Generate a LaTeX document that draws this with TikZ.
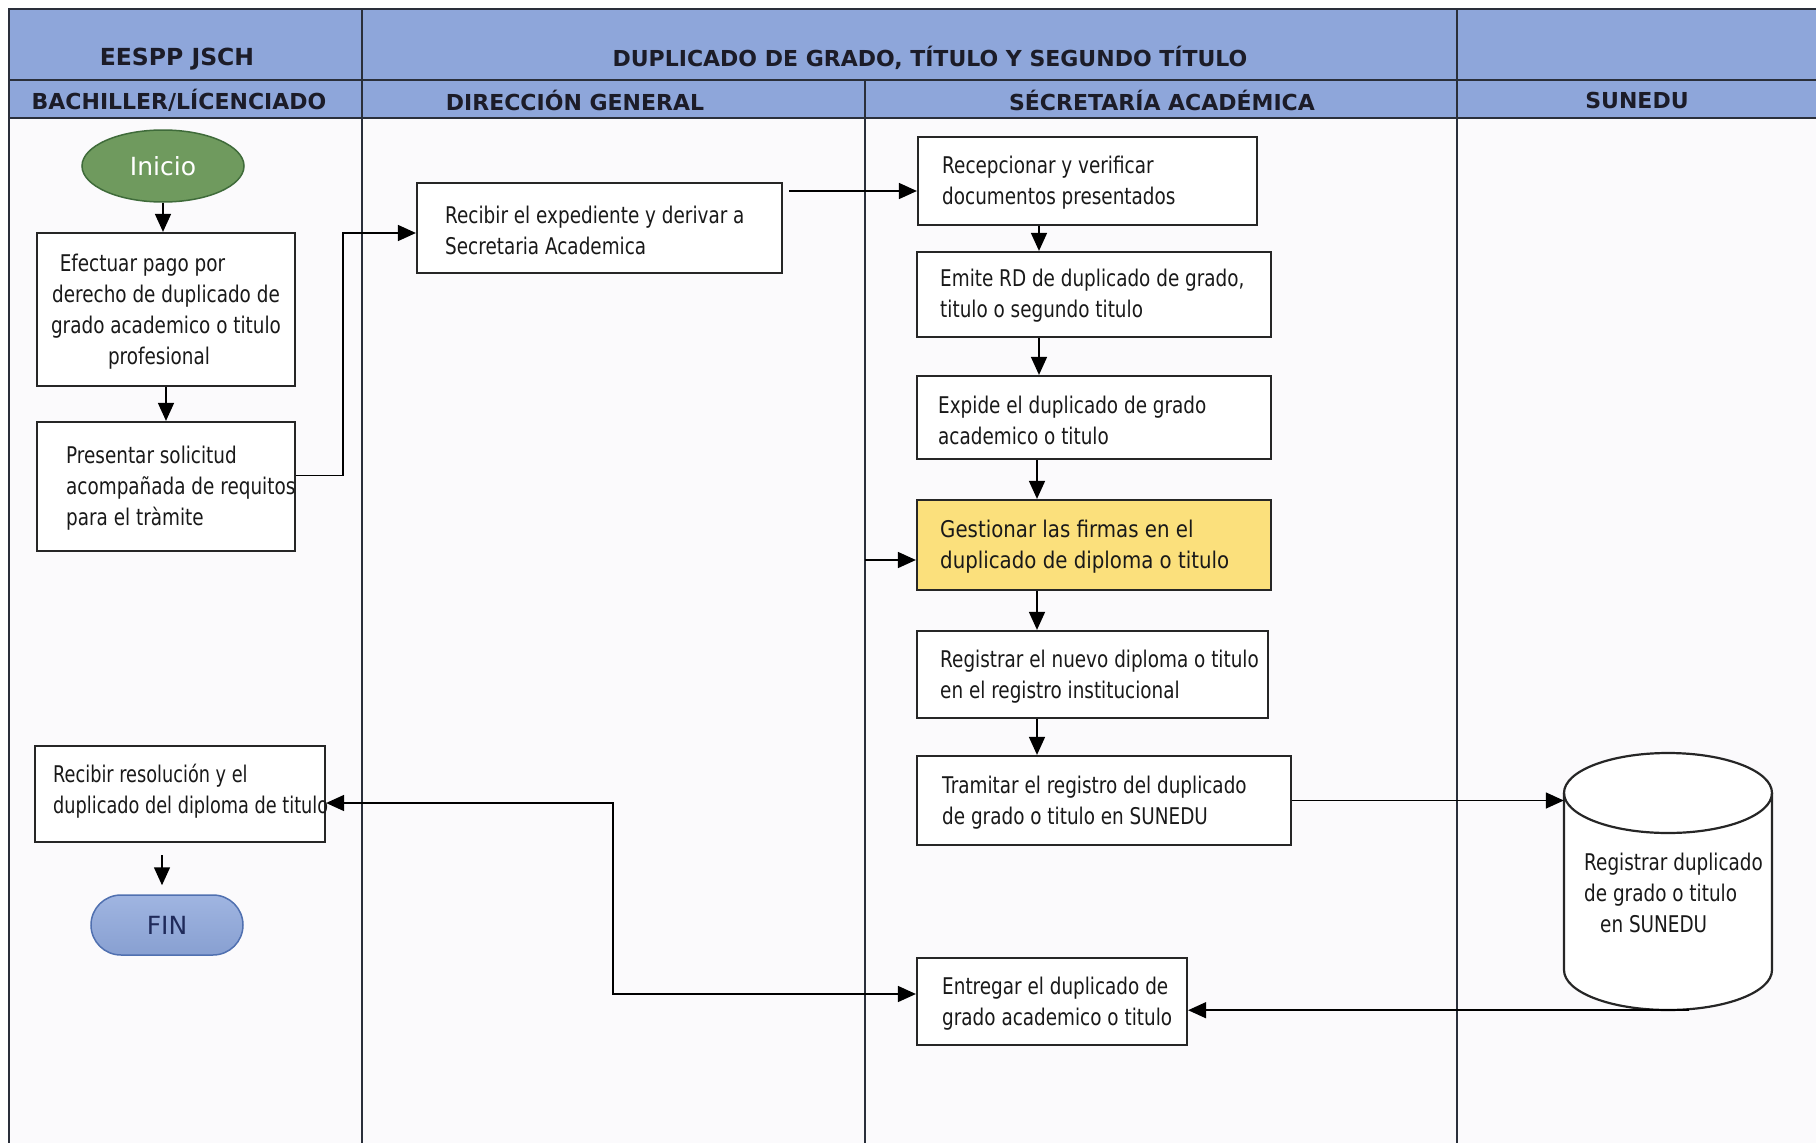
\documentclass[tikz,border=0pt]{standalone}
\usepackage{fontspec}
\setmainfont{DejaVu Sans}[FakeStretch=0.8]
\newfontfamily\hdfont{DejaVu Sans}
\newfontfamily\wdfont{DejaVu Sans}[FakeStretch=0.86]
\newfontfamily\nrfont{DejaVu Sans}[FakeStretch=0.77]
\usetikzlibrary{arrows.meta,shapes.geometric}
\definecolor{hdr}{HTML}{8EA6DA}
\definecolor{hdtext}{HTML}{1C1C28}
\definecolor{framec}{HTML}{2A2F3A}
\definecolor{bodybg}{HTML}{FBFAFC}
\definecolor{inifill}{HTML}{6F9A5E}
\definecolor{inidraw}{HTML}{3F6B3A}
\definecolor{finfill}{HTML}{8FA8DC}
\definecolor{findraw}{HTML}{5070B0}
\definecolor{fintext}{HTML}{1F2A5A}
\definecolor{gesfill}{HTML}{FBE07C}
\tikzset{
  frame/.style={draw=framec, line width=2pt},
  lane/.style={draw=framec, line width=1.6pt},
  hdlabel/.style={font=\hdfont\bfseries\fontsize{22}{26}\selectfont, text=hdtext, inner sep=0pt},
  box/.style={draw=black!85, line width=2.2pt, fill=white, inner sep=0pt},
  boxtxt/.style={font=\fontsize{23}{31}\selectfont, align=left, inner sep=0pt, anchor=west, text=black!90},
  arr/.style={draw=black, line width=1.5pt, -{Triangle[length=18pt,width=16pt]}},
  dblarr/.style={draw=black, line width=1.5pt, {Triangle[length=18pt,width=16pt]}-{Triangle[length=18pt,width=16pt]}},
}
\begin{document}
\begin{tikzpicture}[x=1pt,y=-1pt]
\useasboundingbox (0,0) rectangle (1816,1143);
\fill[white] (0,0) rectangle (1816,1143);
% body and header backgrounds
\fill[bodybg] (9,118) rectangle (1816,1143);
\fill[hdr] (9,9) rectangle (1816,118);
% frame and lanes
\draw[frame] (1816,9) -- (9,9) -- (9,1143);
\draw[frame] (9,80) -- (1816,80);
\draw[frame] (9,118) -- (1816,118);
\draw[lane] (362,9) -- (362,1143);
\draw[lane] (865,80) -- (865,1143);
\draw[lane] (1457,9) -- (1457,1143);
% header labels
\node[hdlabel, font=\hdfont\bfseries\fontsize{23.5}{27}\selectfont] (h1) at (177,59) {EESPP JSCH};
\node[hdlabel] (h2) at (930,58) {DUPLICADO DE GRADO, TÍTULO Y SEGUNDO TÍTULO};
\node[hdlabel] (l1) at (179,100) {BACHILLER/LÍCENCIADO};
\node[hdlabel] (l2) at (575,100) {DIRECCIÓN GENERAL};
\node[hdlabel] (l3) at (1162,100) {SÉCRETARÍA ACADÉMICA};
\node[hdlabel] (l4) at (1637,100) {SUNEDU};

% start / end
\node[ellipse, draw=inidraw, line width=1.5pt, fill=inifill, minimum width=162pt, minimum height=72pt, inner sep=0pt,
      font=\hdfont\fontsize{25}{30}\selectfont, text=white] (ini) at (163,166) {Inicio};
\node[rectangle, rounded corners=30pt, draw=findraw, line width=1.5pt, top color=finfill!85!white, bottom color=finfill!95!black,
      minimum width=152pt, minimum height=60pt, inner sep=0pt,
      font=\hdfont\fontsize{25}{30}\selectfont, text=fintext] (fin) at (167,925) {FIN};

% boxes
\node[box, minimum width=258pt, minimum height=153pt] (efe) at (166,309.5) {};
\node[inner sep=0pt, align=center, font=\fontsize{23}{31}\selectfont, text=black!90] (efet) at (166,312)
  {Efectuar pago por\hspace*{47pt}\\derecho de duplicado de\\grado academico o titulo\\profesional\hspace*{14pt}};
\node[box, minimum width=258pt, minimum height=129pt] (pres) at (166,486.5) {};
\node[boxtxt] (prest) at (66,488) {Presentar solicitud\\acompañada de requitos\\para el tràmite};

\node[box, minimum width=365pt, minimum height=90pt] (exp) at (599.5,228) {};
\node[boxtxt] (expt) at (445,230) {Recibir el expediente y derivar a\\Secretaria Academica};

\node[box, minimum width=339pt, minimum height=88pt] (rec) at (1087.5,181) {};
\node[boxtxt] (rect) at (942,183) {Recepcionar y verificar\\documentos presentados};

\node[box, minimum width=354pt, minimum height=85pt] (emi) at (1094,294.5) {};
\node[boxtxt] (emit) at (940,296) {Emite RD de duplicado de grado,\\titulo o segundo titulo};

\node[box, minimum width=354pt, minimum height=83pt] (expi) at (1094,417.5) {};
\node[boxtxt] (expit) at (938,420) {Expide el duplicado de grado\\academico o titulo};

\node[box, fill=gesfill, minimum width=354pt, minimum height=90pt] (ges) at (1094,545) {};
\node[boxtxt, font=\wdfont\fontsize{23}{31}\selectfont] (gest) at (940,547) {Gestionar las firmas en el\\duplicado de diploma o titulo};

\node[box, minimum width=351pt, minimum height=87pt] (reg) at (1092.5,674.5) {};
\node[boxtxt] (regt) at (940,677) {Registrar el nuevo diploma o titulo\\en el registro institucional};

\node[box, minimum width=374pt, minimum height=89pt] (tra) at (1104,800.5) {};
\node[boxtxt] (trat) at (942,803) {Tramitar el registro del duplicado\\de grado o titulo en SUNEDU};

\node[box, minimum width=270pt, minimum height=87pt] (ent) at (1052,1001.5) {};
\node[boxtxt] (entt) at (942,1004) {Entregar el duplicado de\\grado academico o titulo};

\node[box, minimum width=290pt, minimum height=96pt] (rr) at (180,794) {};
\node[boxtxt, font=\nrfont\fontsize{23}{31}\selectfont] (rrt) at (53,791) {Recibir resolución y el\\duplicado del diploma de titulo};

% cylinder (database)
\fill[white] (1564,793) -- (1564,970) arc[start angle=180, end angle=360, x radius=104pt, y radius=40pt] -- (1772,793) -- cycle;
\fill[white] (1668,793) ellipse [x radius=104pt, y radius=40pt];
\draw[black!85, line width=2.2pt] (1564,793) -- (1564,970) arc[start angle=180, end angle=360, x radius=104pt, y radius=40pt] -- (1772,793);
\draw[black!85, line width=2.2pt] (1668,793) ellipse [x radius=104pt, y radius=40pt];
\node[inner sep=0pt, minimum width=208pt, minimum height=257pt] (cyl) at (1668,881.5) {};
\node[boxtxt] (cylt) at (1584,893) {Registrar duplicado\\de grado o titulo\\\hspace*{16pt}en SUNEDU};

% helper coordinates
\coordinate (vx) at (1039,0);
\coordinate (c1) at (343,475.5);
\coordinate (g0) at (865,560);
\coordinate (c2) at (613,994);
\coordinate (fx) at (162,0);
\coordinate (cb) at ([xshift=21pt]cyl.south);

% connectors
\draw[arr] (ini.south) -- (ini.south |- efe.north);
\draw[arr] (efe.south) -- (pres.north);
\draw[arr] ([yshift=11pt]pres.east) -- (c1) |- ([yshift=-5pt]exp.west);
\draw[arr] ([yshift=37pt,xshift=6pt]exp.east) -- ([yshift=37pt]exp.east -| rec.west);
\draw[arr] (rec.south -| vx) -- (emi.north -| vx);
\draw[arr] (emi.south -| vx) -- (expi.north -| vx);
\draw[arr] ([xshift=-2pt]expi.south -| vx) -- ([xshift=-2pt]ges.north -| vx);
\draw[arr] ([xshift=-2pt]ges.south -| vx) -- ([xshift=-2pt]reg.north -| vx);
\draw[arr] ([xshift=-2pt]reg.south -| vx) -- ([xshift=-2pt]tra.north -| vx);
\draw[arr] (g0) -- (g0 -| ges.west);
\draw[arr] (tra.east) -- (tra.east -| cyl.west);
\draw[arr] (cb) -- (cb -| ent.east);
\draw[dblarr] ([yshift=-9pt]rr.east) -| (c2) -- (c2 -| ent.west);
\draw[arr] ([yshift=-12pt]rr.south -| fx) -- ([yshift=9pt]fin.north -| fx);
\end{tikzpicture}
\end{document}
